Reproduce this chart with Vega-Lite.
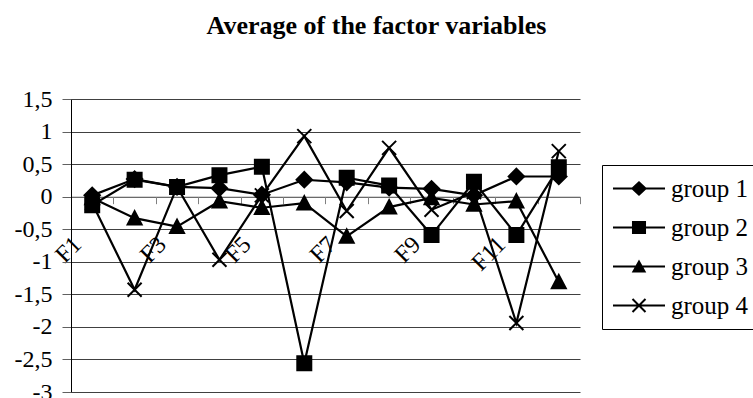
{
  "$schema": "https://vega.github.io/schema/vega-lite/v6.json",
  "autosize": {"type": "none"},
  "width": 509,
  "height": 293,
  "padding": {"left": 71, "top": 99, "right": 173, "bottom": 6},
  "background": "white",
  "config": {
    "font": "Liberation Serif, Times New Roman, serif",
    "view": {"stroke": null}
  },
  "title": {
    "text": "Average of the factor variables",
    "font": "Liberation Serif, Times New Roman, serif",
    "fontSize": 26,
    "fontWeight": "bold",
    "color": "black",
    "anchor": "middle",
    "dx": 51,
    "baseline": "alphabetic",
    "offset": 27
  },
  "data": {
    "values": [
      {"factor": "F1", "group": "group 1", "value": 0.02},
      {"factor": "F2", "group": "group 1", "value": 0.27},
      {"factor": "F3", "group": "group 1", "value": 0.15},
      {"factor": "F4", "group": "group 1", "value": 0.13},
      {"factor": "F5", "group": "group 1", "value": 0.03},
      {"factor": "F6", "group": "group 1", "value": 0.26},
      {"factor": "F7", "group": "group 1", "value": 0.22},
      {"factor": "F8", "group": "group 1", "value": 0.14},
      {"factor": "F9", "group": "group 1", "value": 0.12},
      {"factor": "F10", "group": "group 1", "value": 0.02},
      {"factor": "F11", "group": "group 1", "value": 0.31},
      {"factor": "F12", "group": "group 1", "value": 0.31},
      {"factor": "F1", "group": "group 2", "value": -0.13},
      {"factor": "F2", "group": "group 2", "value": 0.26},
      {"factor": "F3", "group": "group 2", "value": 0.15},
      {"factor": "F4", "group": "group 2", "value": 0.33},
      {"factor": "F5", "group": "group 2", "value": 0.46},
      {"factor": "F6", "group": "group 2", "value": -2.56},
      {"factor": "F7", "group": "group 2", "value": 0.29},
      {"factor": "F8", "group": "group 2", "value": 0.17},
      {"factor": "F9", "group": "group 2", "value": -0.59},
      {"factor": "F10", "group": "group 2", "value": 0.23},
      {"factor": "F11", "group": "group 2", "value": -0.59},
      {"factor": "F12", "group": "group 2", "value": 0.45},
      {"factor": "F1", "group": "group 3", "value": -0.02},
      {"factor": "F2", "group": "group 3", "value": -0.33},
      {"factor": "F3", "group": "group 3", "value": -0.46},
      {"factor": "F4", "group": "group 3", "value": -0.07},
      {"factor": "F5", "group": "group 3", "value": -0.17},
      {"factor": "F6", "group": "group 3", "value": -0.1},
      {"factor": "F7", "group": "group 3", "value": -0.61},
      {"factor": "F8", "group": "group 3", "value": -0.16},
      {"factor": "F9", "group": "group 3", "value": -0.02},
      {"factor": "F10", "group": "group 3", "value": -0.12},
      {"factor": "F11", "group": "group 3", "value": -0.07},
      {"factor": "F12", "group": "group 3", "value": -1.31},
      {"factor": "F1", "group": "group 4", "value": -0.1},
      {"factor": "F2", "group": "group 4", "value": -1.43},
      {"factor": "F3", "group": "group 4", "value": 0.15},
      {"factor": "F4", "group": "group 4", "value": -0.97},
      {"factor": "F5", "group": "group 4", "value": 0.02},
      {"factor": "F6", "group": "group 4", "value": 0.93},
      {"factor": "F7", "group": "group 4", "value": -0.22},
      {"factor": "F8", "group": "group 4", "value": 0.75},
      {"factor": "F9", "group": "group 4", "value": -0.2},
      {"factor": "F10", "group": "group 4", "value": 0.07},
      {"factor": "F11", "group": "group 4", "value": -1.94},
      {"factor": "F12", "group": "group 4", "value": 0.7}
    ]
  },
  "encoding": {
    "x": {
      "field": "factor",
      "type": "nominal",
      "sort": null,
      "bandPosition": 0.5,
      "scale": {"type": "band", "paddingInner": 0, "paddingOuter": 0},
      "axis": {
        "title": null,
        "orient": "bottom",
        "offset": -195.33,
        "domainColor": "#808080",
        "domainWidth": 1,
        "tickBand": "extent",
        "tickColor": "#808080",
        "tickSize": 7,
        "labelAngle": -45,
        "labelAlign": "right",
        "labelBaseline": "middle",
        "labelPadding": 37,
        "labelOffset": -15,
        "labelFont": "Liberation Serif, Times New Roman, serif",
        "labelFontSize": 24,
        "labelColor": "black",
        "labelExpr": "indexof(['F1','F3','F5','F7','F9','F11'], datum.value) >= 0 ? datum.label : ''",
        "grid": false
      }
    },
    "y": {
      "field": "value",
      "type": "quantitative",
      "scale": {"domain": [-3, 1.5], "nice": false, "zero": false},
      "axis": {
        "title": null,
        "values": [-3, -2.5, -2, -1.5, -1, -0.5, 0, 0.5, 1, 1.5],
        "labelExpr": "replace('' + datum.value, '.', ',')",
        "labelFont": "Liberation Serif, Times New Roman, serif",
        "labelFontSize": 24,
        "labelColor": "black",
        "labelPadding": 10,
        "tickSize": 9,
        "tickColor": "#606060",
        "domainColor": "black",
        "domainWidth": 1,
        "grid": true,
        "gridColor": "#404040",
        "gridWidth": 1
      }
    }
  },
  "layer": [
    {
      "mark": {"type": "line", "color": "black", "strokeWidth": 2.2},
      "encoding": {"detail": {"field": "group", "type": "nominal"}}
    },
    {
      "mark": {
        "type": "point",
        "filled": true,
        "fill": "black",
        "stroke": "black",
        "strokeWidth": 2,
        "opacity": 1,
        "size": 196
      },
      "encoding": {
        "shape": {
          "field": "group",
          "type": "nominal",
          "scale": {
            "domain": ["group 1", "group 2", "group 3", "group 4"],
            "range": [
              "M0,-1.1L1.1,0L0,1.1L-1.1,0Z",
              "M-1,-1H1V1H-1Z",
              "M0,-1L1,0.9H-1Z",
              "M-1,-1L1,1M-1,1L1,-1"
            ]
          },
          "legend": null
        }
      }
    },
    {
      "transform": [{"filter": "datum.value > 100"}],
      "mark": {
        "type": "point",
        "filled": true,
        "fill": "black",
        "opacity": 1,
        "size": 2704
      },
      "encoding": {
        "shape": {
          "field": "group",
          "type": "nominal",
          "scale": {
            "domain": ["group 1", "group 2", "group 3", "group 4"],
            "range": [
              "M-1,-0.04H1V0.04H-1ZM0,-0.29L0.31,0L0,0.29L-0.31,0Z",
              "M-1,-0.04H1V0.04H-1ZM-0.27,-0.25H0.27V0.25H-0.27Z",
              "M-1,-0.04H1V0.04H-1ZM0,-0.27L0.28,0.23H-0.28Z",
              "M-1,-0.04H1V0.04H-1ZM-0.2228,-0.2772L0.2772,0.2228L0.2228,0.2772L-0.2772,-0.2228ZM-0.2772,0.2228L0.2228,-0.2772L0.2772,-0.2228L-0.2228,0.2772Z"
            ]
          },
          "legend": {
            "title": null,
            "orient": "none",
            "legendX": 531,
            "legendY": 66,
            "padding": 5,
            "strokeColor": "black",
            "fillColor": "white",
            "symbolSize": 2704,
            "symbolFillColor": "black",
            "symbolOpacity": 1,
            "symbolOffset": 5,
            "labelOffset": 5,
            "labelFont": "Liberation Serif, Times New Roman, serif",
            "labelFontSize": 25,
            "labelColor": "black",
            "labelLimit": 200,
            "clipHeight": 37,
            "rowPadding": 2
          }
        }
      }
    }
  ],
  "resolve": {"scale": {"shape": "independent"}, "legend": {"shape": "independent"}}
}
